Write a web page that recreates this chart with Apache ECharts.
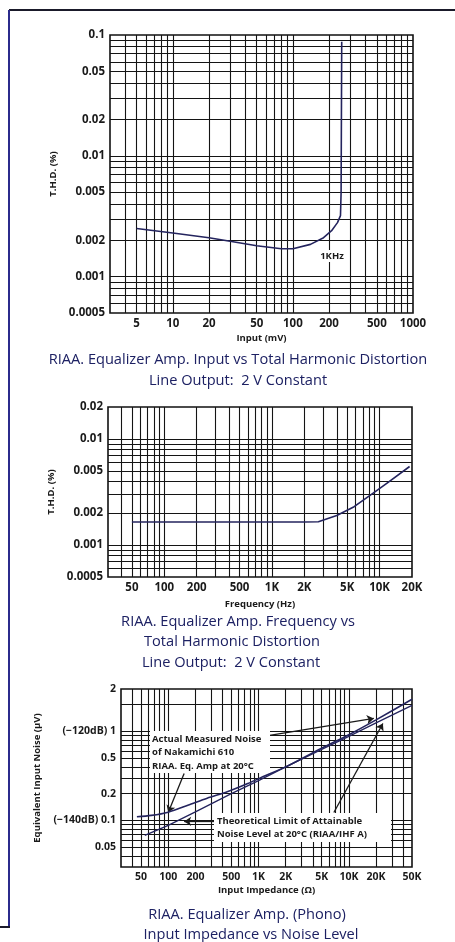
<!DOCTYPE html>
<html>
<head>
<meta charset="utf-8">
<script src="https://cdn.jsdelivr.net/npm/echarts@6/dist/echarts.min.js"></script>
<style>
html, body { margin: 0; padding: 0; background: #fff; }
#main { width: 455px; height: 942px; }
</style>
</head>
<body>
<div id="main"></div>
<script>
// 图1: Input (mV) vs THD (%), 1kHz
const inputMv = [5, 10, 20, 30, 50, 80, 100, 140, 180, 210, 235, 249, 252, 255];
const thdByInput = [0.0025, 0.0023, 0.0021, 0.00196, 0.0018, 0.0017, 0.0017, 0.00185, 0.0021, 0.0024, 0.0028, 0.0032, 0.005, 0.088];
const inputTicks = [5, 10, 20, 50, 100, 200, 500, 1000];
const inputTickText = ['5', '10', '20', '50', '100', '200', '500', '1000'];
const thdTicks1 = [0.1, 0.05, 0.02, 0.01, 0.005, 0.002, 0.001, 0.0005];
const thdTickText1 = ['0.1', '0.05', '0.02', '0.01', '0.005', '0.002', '0.001', '0.0005'];

// 图2: Frequency (Hz) vs THD (%)
const freqHz = [50, 100, 200, 500, 1000, 2000, 2700, 4000, 5800, 8400, 12000, 19000];
const thdByFreq = [0.00165, 0.00165, 0.00165, 0.00165, 0.00165, 0.00165, 0.00166, 0.0019, 0.0023, 0.003, 0.0039, 0.0055];
const freqTicks = [50, 100, 200, 500, 1000, 2000, 5000, 10000, 20000];
const freqTickText = ['50', '100', '200', '500', '1K', '2K', '5K', '10K', '20K'];
const thdTicks2 = [0.02, 0.01, 0.005, 0.002, 0.001, 0.0005];
const thdTickText2 = ['0.02', '0.01', '0.005', '0.002', '0.001', '0.0005'];

// 图3: Input impedance (Ω) vs equivalent input noise (μV)
const impedance = [45, 65, 100, 165, 270, 450, 760, 1200, 2000, 5000, 10000, 20000, 50000];
const noiseMeasured = [0.11, 0.114, 0.124, 0.148, 0.178, 0.21, 0.26, 0.32, 0.4, 0.65, 0.92, 1.35, 2.3];
const theoryOhm = [55, 100, 200, 500, 1000, 2000, 5000, 10000, 20000, 50000];
const noiseTheory = [0.068, 0.088, 0.125, 0.2, 0.28, 0.4, 0.63, 0.88, 1.25, 1.96];
const ohmTicks = [50, 100, 200, 500, 1000, 2000, 5000, 10000, 20000, 50000];
const ohmTickText = ['50', '100', '200', '500', '1K', '2K', '5K', '10K', '20K', '50K'];
// 原图把 "2" 印在了上边框 (数值 3) 处
const noiseTicks = [3, 1, 0.5, 0.2, 0.1, 0.05];
const noiseTickText = ['2', '(\u2212120dB) 1', '0.5', '0.2', '(\u2212140dB) 0.1', '0.05'];

// 注释箭头 (数据坐标)
const arrows3 = [
    [[1274, 0.9], [18900, 1.4]],
    [[150, 0.337], [100, 0.123]],
    [[330, 0.0975], [150, 0.0975]],
    [[6820, 0.123], [23800, 1.23]]
];

const ink = '#1a1a1a';
const navy = '#1d2163';
const font = 'Open Sans';

// 对数网格 1..9 x 10^n
function logGrid(min, max) {
    const out = [];
    for (let e = -5; e <= 6; e++) {
        for (let m = 1; m <= 9; m++) {
            const v = +(m * Math.pow(10, e)).toPrecision(6);
            if (v > min * 1.001 && v < max * 0.999) out.push(v);
        }
    }
    return out;
}

function labelOf(values, texts) {
    return function (v) {
        for (let i = 0; i < values.length; i++) {
            if (Math.abs(Math.log10(v / values[i])) < 0.01) return texts[i];
        }
        return '';
    };
}

function logAxis(gridIndex, min, max, ticks, texts, name, nameGap, fontSize) {
    return {
        type: 'log',
        logBase: 10,
        gridIndex: gridIndex,
        min: min,
        max: max,
        name: name,
        nameLocation: 'middle',
        nameGap: nameGap,
        nameTextStyle: { color: ink, fontFamily: font, fontWeight: 'bold', fontSize: 9.5 },
        axisLine: { show: false },
        axisTick: { show: false, customValues: logGrid(min, max) },
        splitLine: { show: true, lineStyle: { color: '#141414', width: 1.1 } },
        axisLabel: {
            customValues: ticks,
            formatter: labelOf(ticks, texts),
            color: ink,
            fontFamily: font,
            fontWeight: 'bold',
            fontSize: fontSize,
            margin: 5
        }
    };
}

function pairs(xs, ys) {
    return xs.map((x, i) => [x, ys[i]]);
}

function titleText(text, x, y) {
    return {
        type: 'text',
        style: {
            text: text, x: x, y: y,
            textAlign: 'center', textVerticalAlign: 'middle',
            fill: navy, font: '500 14.6px "Open Sans"'
        }
    };
}

function noteText(text, x, y) {
    return {
        type: 'text', z: 60,
        style: {
            text: text, x: x, y: y,
            textAlign: 'left', textVerticalAlign: 'middle',
            fill: ink, font: 'bold 9.5px "Open Sans"'
        }
    };
}

const chart = echarts.init(document.getElementById('main'), null, { renderer: 'canvas' });

const gridBox = { show: true, borderColor: '#111', borderWidth: 1.6, backgroundColor: 'transparent', outerBoundsMode: 'none' };

chart.setOption({
    backgroundColor: '#fff',
    animation: false,
    grid: [
        Object.assign({ left: 110, top: 35, width: 303, height: 278 }, gridBox),
        Object.assign({ left: 108, top: 407, width: 304, height: 170 }, gridBox),
        Object.assign({ left: 121, top: 689, width: 291, height: 178 }, gridBox)
    ],
    xAxis: [
        logAxis(0, 3, 1000, inputTicks, inputTickText, 'Input (mV)', 20, 11.5),
        logAxis(1, 30, 20000, freqTicks, freqTickText, 'Frequency (Hz)', 22, 11.5),
        logAxis(2, 30, 50000, ohmTicks, ohmTickText, 'Input Impedance (\u03a9)', 18, 10.5)
    ],
    yAxis: [
        logAxis(0, 0.0005, 0.1, thdTicks1, thdTickText1, 'T.H.D. (%)', 33, 11.5),
        logAxis(1, 0.0005, 0.02, thdTicks2, thdTickText2, 'T.H.D. (%)', 40, 11.5),
        logAxis(2, 0.03, 3, noiseTicks, noiseTickText, 'Equivalent Input Noise (\u03bcV)', 73, 10.5)
    ],
    series: [
        {
            type: 'line', xAxisIndex: 0, yAxisIndex: 0,
            data: pairs(inputMv, thdByInput),
            symbol: 'none', z: 5,
            lineStyle: { color: '#24245e', width: 1.6 }
        },
        {
            type: 'line', xAxisIndex: 1, yAxisIndex: 1,
            data: pairs(freqHz, thdByFreq),
            symbol: 'none', z: 5,
            lineStyle: { color: '#24245e', width: 1.6 }
        },
        {
            type: 'line', xAxisIndex: 2, yAxisIndex: 2,
            data: pairs(impedance, noiseMeasured),
            symbol: 'none', z: 5, smooth: 0.3,
            lineStyle: { color: '#24245e', width: 1.6 },
            markLine: {
                silent: true,
                symbol: ['none', 'arrow'],
                symbolSize: 7,
                label: { show: false },
                lineStyle: { color: ink, width: 1.3, type: 'solid' },
                data: arrows3.map(a => [{ coord: a[0] }, { coord: a[1] }])
            }
        },
        {
            type: 'line', xAxisIndex: 2, yAxisIndex: 2,
            data: pairs(theoryOhm, noiseTheory),
            symbol: 'none', z: 5,
            lineStyle: { color: '#24245e', width: 1.3 }
        }
    ],
    graphic: [
        // 外框
        { type: 'line', shape: { x1: 9, y1: 10, x2: 455, y2: 10 }, style: { stroke: '#1a1a2a', lineWidth: 2 } },
        { type: 'line', shape: { x1: 9, y1: 10, x2: 9, y2: 927 }, style: { stroke: '#2b2b8c', lineWidth: 2 } },
        { type: 'line', shape: { x1: 0, y1: 927, x2: 10, y2: 927 }, style: { stroke: '#1a1a2a', lineWidth: 2 } },
        // 标题
        titleText('RIAA. Equalizer Amp. Input vs Total Harmonic Distortion', 238, 360),
        titleText('Line Output:  2 V Constant', 238, 381),
        titleText('RIAA. Equalizer Amp. Frequency vs', 238, 622),
        titleText('Total Harmonic Distortion', 232, 642),
        titleText('Line Output:  2 V Constant', 231, 663),
        titleText('RIAA. Equalizer Amp. (Phono)', 247, 915),
        titleText('Input Impedance vs Noise Level', 251, 935),
        // 1KHz
        {
            type: 'text', z: 60,
            style: {
                text: '1KHz', x: 332, y: 256, textAlign: 'center', textVerticalAlign: 'middle',
                fill: ink, font: 'bold 9.5px "Open Sans"', backgroundColor: '#fff', padding: [1, 2]
            }
        },
        // 注释框
        { type: 'rect', z: 55, shape: { x: 150, y: 731, width: 120, height: 42 }, style: { fill: '#fff' } },
        noteText('Actual Measured Noise', 152, 739),
        noteText('of Nakamichi 610', 152, 752),
        noteText('RIAA. Eq. Amp at 20\u00b0C', 152, 766),
        { type: 'rect', z: 55, shape: { x: 214, y: 813, width: 177, height: 29 }, style: { fill: '#fff' } },
        noteText('Theoretical Limit of Attainable', 217, 821),
        noteText('Noise Level at 20\u00b0C (RIAA/IHF A)', 217, 834)
    ]
});
</script>
</body>
</html>
